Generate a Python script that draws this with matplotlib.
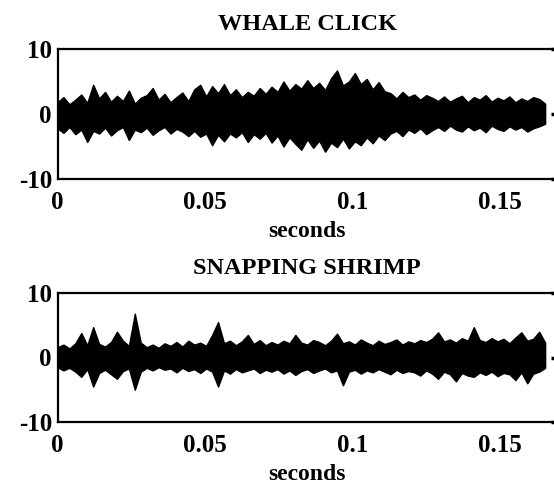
import numpy as np
import matplotlib
matplotlib.use("Agg")
import matplotlib.pyplot as plt

t_end = 0.1653
whale_upper = [
    1.8, 2.6, 1.5, 2.2, 3.0, 1.7, 4.5, 2.4, 3.4, 1.9,
    2.8, 2.0, 3.6, 1.6, 2.5, 2.9, 4.0, 2.2, 3.1, 1.8,
    2.6, 3.3, 2.0, 3.8, 4.5, 2.7, 4.3, 3.2, 4.6, 2.9,
    3.8, 2.6, 3.4, 2.8, 4.0, 3.1, 4.2, 3.4, 5.0, 3.6,
    4.6, 3.9, 5.2, 4.0, 4.8, 3.7, 5.5, 6.7, 4.4, 5.0,
    6.3, 4.6, 5.4, 3.8, 4.9, 3.5, 3.2, 2.4, 3.4, 2.6,
    3.0, 2.2, 2.9, 2.5, 2.0, 2.7, 1.9, 2.4, 2.8, 1.8,
    2.6, 2.2, 2.9, 1.9, 2.5, 2.1, 2.7, 1.8, 2.4, 2.0,
    2.6, 2.3, 1.6]
whale_lower = [
    -2.2, -2.9, -2.0, -3.1, -2.4, -4.3, -2.6, -3.0, -2.1, -3.3,
    -2.5, -2.0, -4.0, -2.4, -2.8, -2.1, -3.2, -2.5, -2.0, -3.0,
    -2.3, -2.7, -3.4, -2.6, -3.5, -3.0, -4.8, -3.2, -4.2, -3.0,
    -3.6, -2.8, -4.3, -3.1, -3.8, -2.9, -4.4, -3.3, -5.0, -3.6,
    -4.6, -5.5, -3.9, -5.2, -4.1, -5.8, -4.4, -5.1, -3.8, -5.3,
    -4.2, -4.8, -3.6, -4.5, -3.3, -4.0, -3.0, -2.6, -3.4, -2.4,
    -2.9, -2.2, -3.1, -2.5, -2.0, -2.6, -1.8, -2.4, -2.7, -1.9,
    -2.5, -2.1, -2.8, -1.8, -2.3, -2.6, -1.9, -2.4, -2.0, -2.7,
    -2.2, -1.9, -1.5]
shrimp_upper = [
    1.6, 2.0, 1.4, 2.2, 3.8, 1.9, 4.7, 2.1, 1.7, 2.4,
    4.0, 2.6, 1.8, 6.8, 2.3, 1.6, 2.0, 1.5, 2.2, 1.8,
    2.4, 1.7, 2.6, 2.0, 2.3, 1.8, 3.5, 5.5, 2.2, 2.6,
    1.9, 2.5, 3.5, 2.1, 2.7, 1.9, 2.4, 2.0, 2.6, 2.2,
    3.5, 2.3, 2.0, 2.7, 2.4, 1.9, 2.6, 3.7, 2.2, 2.5,
    2.0, 2.8, 2.3, 1.9, 2.6, 2.1, 2.4, 2.8, 2.0, 2.5,
    2.2, 2.7, 2.4, 2.9, 3.9, 2.5, 2.8, 2.3, 3.0, 2.6,
    4.7, 2.7, 2.4, 3.0, 2.5, 2.9, 2.2, 3.1, 3.9, 2.6,
    2.9, 4.0, 2.3]
shrimp_lower = [
    -1.5, -2.0, -1.6, -2.2, -3.0, -1.8, -4.5, -2.4, -1.9, -2.6,
    -3.3, -2.1, -1.7, -5.0, -2.2, -1.6, -2.0, -1.5, -1.9, -1.7,
    -2.3, -1.6, -2.1, -1.8, -2.4, -1.7, -2.2, -4.5, -2.0, -2.5,
    -1.8, -2.3, -2.0, -1.7, -2.4, -1.9, -2.2, -1.8, -2.5, -2.0,
    -2.7, -2.1, -1.8, -2.4, -2.0, -1.7, -2.3, -2.0, -4.3, -2.2,
    -1.9, -2.5, -2.0, -2.3, -1.8, -2.2, -2.6, -1.9, -2.4, -2.1,
    -2.3, -2.8, -2.0, -2.5, -3.3, -2.2, -2.6, -3.7, -2.4, -2.8,
    -3.0, -2.3, -2.7, -2.2, -2.9, -2.4, -2.6, -3.5, -2.3, -4.0,
    -2.5, -2.2, -1.6]

titles = ["WHALE CLICK", "SNAPPING SHRIMP"]
xticks = [0, 0.05, 0.1, 0.15]
xticklabels = ["0", "0.05", "0.1", "0.15"]
yticks = [-10, 0, 10]
yticklabels = ["-10", "0", "10"]

W, H = 554, 484
fig = plt.figure(figsize=(W / 100, H / 100), dpi=100)
font = dict(family="Liberation Serif", weight="bold")
FS = 18

left_px, right_px = 57.5, 556.5
xmax = (right_px - left_px) / 2950.0
panels = [
    (49, 179, whale_upper, whale_lower, titles[0]),
    (293, 422, shrimp_upper, shrimp_lower, titles[1]),
]
for top, bot, up, lo, title in panels:
    ax = fig.add_axes([left_px / W, 1 - bot / H, (right_px - left_px) / W, (bot - top) / H])
    t = np.linspace(0, t_end, len(up))
    ax.fill_between(t, lo, up, color="black", lw=1.0, edgecolor="black")
    ax.set_xlim(0, xmax)
    ax.set_ylim(-10, 10)
    ax.set_xticks(xticks)
    ax.set_xticklabels(xticklabels, fontdict=dict(size=FS, **font))
    ax.set_yticks(yticks)
    ax.set_yticklabels(yticklabels, fontdict=dict(size=FS, **font))
    ax.tick_params(axis="x", length=0, pad=9)
    ax.tick_params(axis="y", left=False, right=True, direction="in",
                   length=4, width=2.5, pad=4)
    ax.set_title(title, fontsize=17.5, pad=14, **font)
    ax.set_xlabel("seconds", fontsize=17, labelpad=5, **font)
    for s in ax.spines.values():
        s.set_linewidth(1.6)

fig.savefig("out.png", dpi=100)
